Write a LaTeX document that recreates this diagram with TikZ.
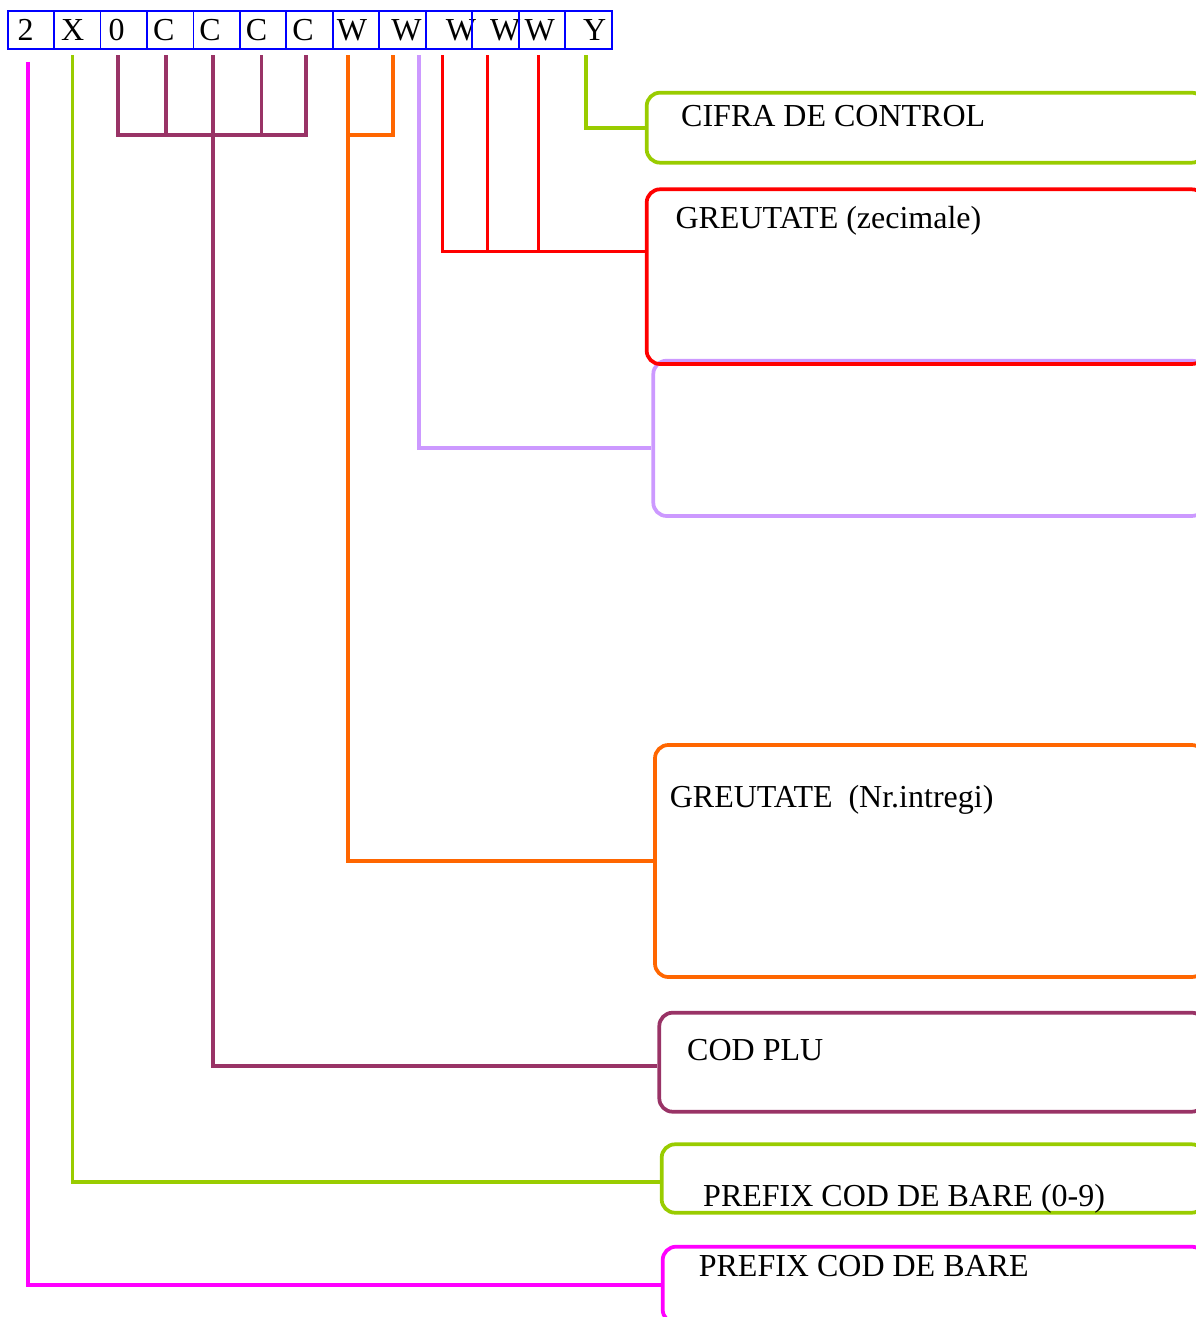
\documentclass[tikz,border=0pt]{standalone}
\usepackage{fontspec}
\setmainfont{Liberation Serif}
\usetikzlibrary{fit}

\definecolor{cellblue}{HTML}{0000FF}
\definecolor{prefmag}{HTML}{FF00FF}
\definecolor{lime}{HTML}{99CC00}
\definecolor{plupurple}{HTML}{993366}
\definecolor{intorange}{HTML}{FF6600}
\definecolor{lilac}{HTML}{CC99FF}
\definecolor{decred}{HTML}{FF0000}

\newdimen\pxu \pxu=0.375pt

\tikzset{
  cell/.style={draw=cellblue, line width=0.7pt, inner sep=0pt, anchor=west,
    minimum height=14.5pt, font=\fontsize{12pt}{14pt}\selectfont},
  box/.style={draw=#1, line width=1.4pt, rounded corners=5pt, inner sep=0pt},
  wire/.style={draw=#1, line width=1.4pt},
  lbl/.style={anchor=base west, inner sep=0pt, font=\fontsize{12pt}{14pt}\selectfont}
}

\begin{document}
\begin{tikzpicture}[x=0.375pt,y=-0.375pt]
\useasboundingbox (0,0) rectangle (1196,1317);
\clip (0,0) rectangle (1196,1317);

% the code digits
\foreach \t/\p [count=\i from 0] in {2/10,X/7,0/8,C/6,C/6,C/6,C/6,W/4,W/12,W/20,W/18,W/6,Y/18}
  \node[cell] (c\i) at (6.7+46.46*\i,30) {\makebox[17.42pt][l]{\hspace*{\p\pxu}\t}};

% where the lines leave the digits
\foreach \i/\dx in {0/-1.0,1/-1.8,2/-2.3,3/-1.7,4/-1.3,5/-0.6,6/-1.3,7/-3.0,8/-3.5,9/-2.4,10/-3.0,11/-1.3,12/-0.8}
  \coordinate (w\i) at ([xshift=\dx pt,yshift=-1.8pt]c\i.south);
\coordinate (wl) at ([xshift=6.3pt,yshift=-1.8pt]c8.south);

% boxes on the right
\node[box=lime, fit={(646.7,92.7) (1205,162.7)}] (bctl) {};
\node[box=lilac, fit={(653.3,360.7) (1205,516)}] (bgap) {};
\node[box=decred, fit={(646.7,189.3) (1205,364)}] (bdec) {};
\node[box=intorange, fit={(655,745) (1205,977)}] (bint) {};
\node[box=plupurple, fit={(659.3,1012.7) (1205,1111.7)}] (bplu) {};
\node[box=lime, fit={(661.7,1144.3) (1205,1212.7)}] (bpre) {};
\node[box=prefmag, fit={(662.7,1246.7) (1205,1323)}] (bfix) {};

\node[lbl] (tctl) at (680.7,126.7) {CIFRA DE CONTROL};
\node[lbl] (tdec) at (675,228.3) {GREUTATE (zecimale)};
\node[lbl] (tint) at (669.3,807) {GREUTATE\ \ (Nr.intregi)};
\node[lbl] (tplu) at (686.7,1060.7) {COD PLU};
\node[lbl] (tpre) at (702.7,1206) {PREFIX COD DE BARE (0-9)};
\node[lbl] (tfix) at (698.3,1276.7) {PREFIX COD DE BARE};

% connectors
\coordinate (plubar) at (0,135);
\coordinate (intbar) at (0,134.7);
\coordinate (decbar) at ([yshift=9.4pt]bdec.west);

\draw[wire=prefmag] ([yshift=-2.5pt]w0) |- (bfix.west);
\draw[wire=lime] (w1) |- ([yshift=-1.2pt]bpre.west);

\draw[wire=plupurple] (w2) |- (w6 |- plubar) -- (w6);
\draw[wire=plupurple] (w3) -- (w3 |- plubar);
\draw[wire=plupurple] (w5) -- (w5 |- plubar);
\draw[wire=plupurple] (w4) |- ([yshift=-1.4pt]bplu.west);

\draw[wire=intorange] (w8) |- (w7 |- intbar);
\draw[wire=intorange] (w7) |- (bint.west);

\draw[wire=lilac] (wl) |- ([yshift=-3.7pt]bgap.west);

\draw[wire=decred] (w9) |- (decbar);
\draw[wire=decred] (w10) -- (w10 |- decbar);
\draw[wire=decred] (w11) -- (w11 |- decbar);

\draw[wire=lime] (w12) |- (bctl.west);

\end{tikzpicture}
\end{document}
